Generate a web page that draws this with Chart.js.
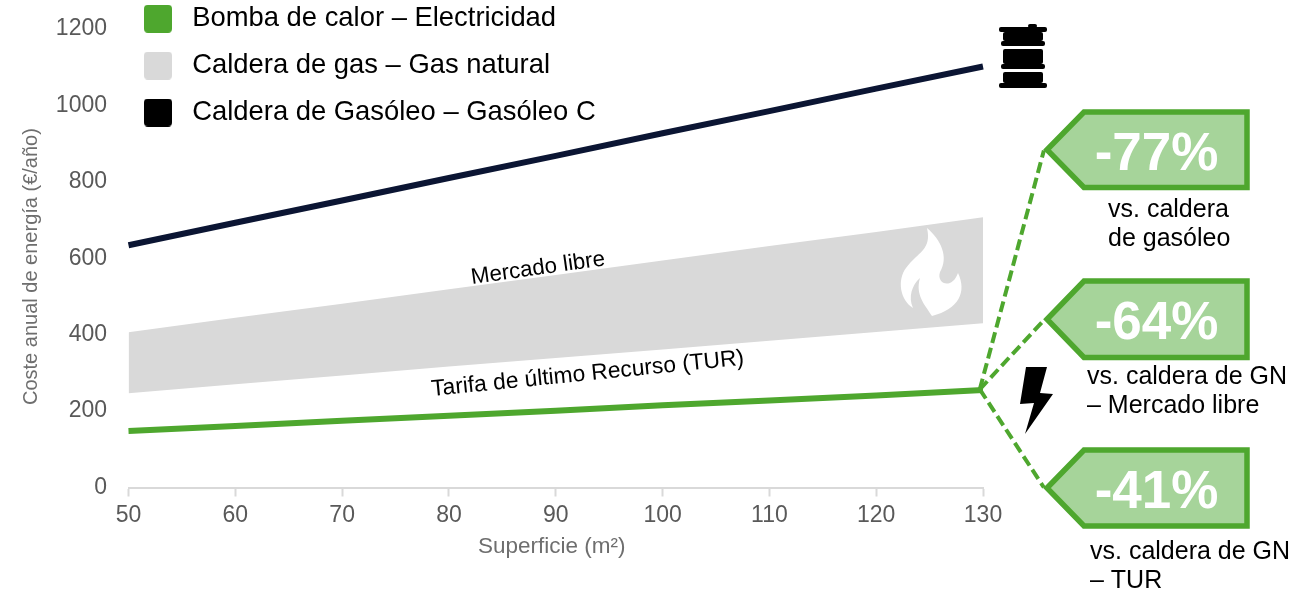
<!DOCTYPE html>
<html lang="es">
<head>
<meta charset="utf-8">
<title>Coste anual de energía</title>
<script src="https://cdn.jsdelivr.net/npm/chart.js@4/dist/chart.umd.min.js"></script>
<style>
  html, body { margin: 0; padding: 0; background: #fff; }
  canvas { display: block; }
</style>
</head>
<body>
<canvas id="chart" width="1297" height="591"></canvas>
<script>
// Surface in m2 and yearly cost per heating system
const superficie = [50, 60, 70, 80, 90, 100, 110, 120, 130];
const gasoleo = [634, 693, 751, 810, 868, 927, 985, 1044, 1102];
const gasLibre = [406, 444, 481, 519, 556, 594, 632, 669, 707];
const gasTur = [247, 270, 293, 317, 339, 361, 384, 407, 430];
const bomba = [148, 161, 175, 188, 201, 215, 228, 241, 255];

const legendNames = ["Bomba de calor – Electricidad", "Caldera de gas – Gas natural", "Caldera de Gasóleo – Gasóleo C"];

// Dashed connectors, from the end of the heat pump line to each tag
const connectorX = [129.7, 135.7];
const connectorStart = 257;
const connectorEnds = [882, 438, 0];

const savings = ["-77%", "-64%", "-41%"];
const captions = [
  ["vs. caldera", "de gasóleo"],
  ["vs. caldera de GN", "– Mercado libre"],
  ["vs. caldera de GN", "– TUR"]
];

const GREEN = "#4ea72e";
const TAG_FILL = "#a6d49a";
const GREY = "#d9d9d9";
const NAVY = "#0b1533";
const AXIS_TEXT = "#6e6e6e";
const FONT = '"Liberation Sans", Arial, sans-serif';

function toPoints(values) {
  return values.map((v, i) => ({ x: superficie[i], y: v }));
}

// Legend swatch as a small canvas, so the built-in legend can draw it
function swatch(color) {
  const c = document.createElement("canvas");
  c.width = 28;
  c.height = 28;
  const g = c.getContext("2d");
  g.fillStyle = color;
  g.beginPath();
  g.roundRect(0, 0, 28, 28, 4);
  g.fill();
  return c;
}

function drawTag(ctx, top, bottom, text) {
  const mid = (top + bottom) / 2;
  ctx.beginPath();
  ctx.moveTo(1047, mid);
  ctx.lineTo(1084, top);
  ctx.lineTo(1247, top);
  ctx.lineTo(1247, bottom);
  ctx.lineTo(1084, bottom);
  ctx.closePath();
  ctx.fillStyle = TAG_FILL;
  ctx.fill();
  ctx.lineWidth = 5.5;
  ctx.strokeStyle = GREEN;
  ctx.lineJoin = "miter";
  ctx.stroke();
  ctx.fillStyle = "#fff";
  ctx.font = "bold 53px " + FONT;
  ctx.textAlign = "center";
  ctx.textBaseline = "alphabetic";
  ctx.fillText(text, 1156.5, mid + 20);
}

function drawCaption(ctx, lines, x, y) {
  ctx.fillStyle = "#000";
  ctx.font = "25px " + FONT;
  ctx.textBaseline = "alphabetic";
  ctx.textAlign = "left";
  ctx.fillText(lines[0], x, y);
  ctx.fillText(lines[1], x, y + 29);
}

function drawBarrel(ctx) {
  ctx.fillStyle = "#000";
  const parts = [
    [1028, 24, 9, 4], [999, 27, 48, 5], [1003, 32, 40, 9], [1001, 41, 44, 5],
    [1003, 49, 40, 15], [1001, 64, 44, 5], [1003, 72, 40, 11], [999, 83, 48, 5]
  ];
  parts.forEach(p => {
    ctx.beginPath();
    ctx.roundRect(p[0], p[1], p[2], p[3], 2);
    ctx.fill();
  });
}

function drawFlame(ctx) {
  ctx.fillStyle = "#fff";
  ctx.fill(new Path2D("M927 228C941 240 949 257 940 272C936 284 952 290 958 273C967 292 959 309 932 316C925 305 915 295 920 278C912 285 908 297 913 308C900 300 897 280 906 268C918 252 932 250 927 228Z"));
}

function drawBolt(ctx) {
  ctx.fillStyle = "#000";
  ctx.fill(new Path2D("M1026 367L1047 367L1040 393L1053 394L1025 434L1034 403L1020 404Z"));
}

function placedText(ctx, text, x, y, angle, font, color) {
  ctx.save();
  ctx.translate(x, y);
  ctx.rotate(angle);
  ctx.fillStyle = color;
  ctx.font = font;
  ctx.textAlign = "left";
  ctx.textBaseline = "alphabetic";
  ctx.fillText(text, 0, 0);
  ctx.restore();
}

// Everything around the plot: axis titles, icons, tags, captions and band names
const extras = {
  id: "extras",
  afterDatasetsDraw(chart) {
    const ctx = chart.ctx;
    ctx.save();
    drawBarrel(ctx);
    drawFlame(ctx);
    drawBolt(ctx);
    placedText(ctx, "Coste anual de energía (€/año)", 37, 405, -Math.PI / 2, "20px " + FONT, AXIS_TEXT);
    placedText(ctx, "Superficie (m²)", 478, 552.5, 0, "22.5px " + FONT, AXIS_TEXT);
    placedText(ctx, "Mercado libre", 472, 284, -0.14, "22.3px " + FONT, "#000");
    placedText(ctx, "Tarifa de último Recurso (TUR)", 432, 396, -0.1, "22.8px " + FONT, "#000");
    drawTag(ctx, 112, 187.5, savings[0]);
    drawTag(ctx, 281, 357.5, savings[1]);
    drawTag(ctx, 450, 526, savings[2]);
    drawCaption(ctx, captions[0], 1108, 216.5);
    drawCaption(ctx, captions[1], 1087, 384);
    drawCaption(ctx, captions[2], 1090, 559);
    ctx.restore();
  }
};

// The legend goes above the plot area, next to the top of the y axis
const moveLegend = {
  id: "moveLegend",
  afterLayout(chart) {
    chart.legend.left = 118;
    chart.legend.top = -14.5;
    chart.legend.bottom = 400;
  }
};

const connectors = connectorEnds.map(end => ({
  data: [{ x: connectorX[0], y: connectorStart }, { x: connectorX[1], y: end }],
  borderColor: GREEN,
  borderWidth: 4,
  borderDash: [11, 5],
  pointRadius: 0,
  clip: false
}));

new Chart(document.getElementById("chart"), {
  type: "line",
  data: {
    datasets: [
      { data: toPoints(gasLibre), borderWidth: 0, backgroundColor: GREY, fill: "+1", pointRadius: 0 },
      { data: toPoints(gasTur), borderWidth: 0, fill: false, pointRadius: 0 },
      { data: toPoints(gasoleo), borderColor: NAVY, borderWidth: 6, pointRadius: 0, clip: false },
      { data: toPoints(bomba), borderColor: GREEN, borderWidth: 6, pointRadius: 0, clip: false },
      ...connectors
    ]
  },
  plugins: [moveLegend, extras],
  options: {
    responsive: false,
    animation: false,
    layout: { padding: { top: 29, right: 314, left: 0, bottom: 0 } },
    plugins: {
      tooltip: { enabled: false },
      legend: {
        position: "chartArea",
        align: "start",
        labels: {
          font: { family: FONT, size: 27.4 },
          color: "#000",
          padding: 19.5,
          usePointStyle: true,
          pointStyleWidth: 41,
          generateLabels: () => [GREEN, GREY, "#000"].map((color, i) => ({
            text: legendNames[i],
            pointStyle: swatch(color),
            fontColor: "#000",
            lineWidth: 0,
            strokeStyle: color,
            fillStyle: color,
            hidden: false
          }))
        }
      }
    },
    scales: {
      x: {
        type: "linear",
        min: 50,
        max: 130,
        afterFit: scale => {
          scale.height = 103.5;
          scale.paddingLeft = 0;
          scale.paddingRight = 0;
        },
        border: { color: GREY, width: 2 },
        grid: { drawOnChartArea: false, drawTicks: true, tickLength: 9, tickColor: GREY, tickWidth: 2 },
        ticks: {
          stepSize: 10,
          autoSkip: false,
          maxRotation: 0,
          padding: 5,
          color: "#595959",
          font: { family: FONT, size: 23 }
        }
      },
      y: {
        min: 0,
        max: 1200,
        afterFit: scale => {
          scale.width = 128.5;
          scale.paddingTop = 0;
          scale.paddingBottom = 0;
        },
        border: { display: false },
        grid: { display: false },
        ticks: {
          stepSize: 200,
          padding: 13.5,
          color: "#595959",
          font: { family: FONT, size: 23 },
          callback: value => String(value)
        }
      }
    }
  }
});
</script>
</body>
</html>
